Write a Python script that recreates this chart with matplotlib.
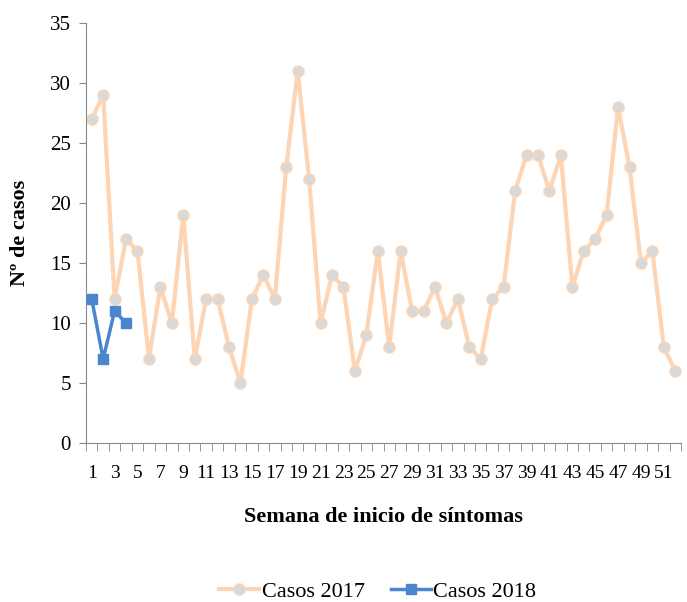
import matplotlib.pyplot as plt
import numpy as np

semanas = list(range(1, 53))
casos_2017 = [27, 29, 12, 17, 16, 7, 13, 10, 19, 7, 12, 12, 8, 5, 12, 14, 12, 23, 31, 22,
              10, 14, 13, 6, 9, 16, 8, 16, 11, 11, 13, 10, 12, 8, 7, 12, 13, 21, 24, 24,
              21, 24, 13, 16, 17, 19, 28, 23, 15, 16, 8, 6]
semanas_2018 = [1, 2, 3, 4]
casos_2018 = [12, 7, 11, 10]

plt.rcParams['font.family'] = ['Liberation Serif', 'DejaVu Serif']

fig = plt.figure(figsize=(6.87, 6.02), dpi=100)
ax = fig.add_axes([86 / 687, 1 - 443 / 602, 595 / 687, 420 / 602])

ax.plot(semanas, casos_2017, color='#FDD5B4', linewidth=3, marker='o', markersize=8,
        markerfacecolor='#D9D9D9', markeredgecolor='#FDD5B4', markeredgewidth=1,
        label='Casos 2017', zorder=2)
ax.plot(semanas_2018, casos_2018, color='#4A86D0', linewidth=2.5, marker='s', markersize=7,
        markerfacecolor='#4A86D0', markeredgecolor='#4A86D0',
        label='Casos 2018', zorder=3)

ax.set_xlim(0.5, 52.5)
ax.set_ylim(0, 35)
ax.set_yticks(np.arange(0, 36, 5))
ax.set_xticks(np.arange(1, 53, 2))
ax.set_xticks(np.arange(0.5, 53, 1), minor=True)
ax.tick_params(axis='x', which='major', length=0, labelsize=14, pad=16)
ax.tick_params(axis='x', which='minor', length=6, color='#888888', direction='out')
ax.tick_params(axis='y', length=5, color='#888888', labelsize=15, pad=6)

for s in ['top', 'right']:
    ax.spines[s].set_visible(False)
for s in ['left', 'bottom']:
    ax.spines[s].set_color('#888888')

ax.set_ylabel('Nº de casos', fontsize=16, fontweight='bold', labelpad=14)
ax.set_xlabel('Semana de inicio de síntomas', fontsize=16, fontweight='bold', labelpad=18)

fig.legend(loc='lower center', bbox_to_anchor=(0.55, -0.033), ncol=2, frameon=False,
           fontsize=16, handlelength=1.8, handletextpad=0.1, columnspacing=1.2)

fig.savefig('out.png', dpi=100)
